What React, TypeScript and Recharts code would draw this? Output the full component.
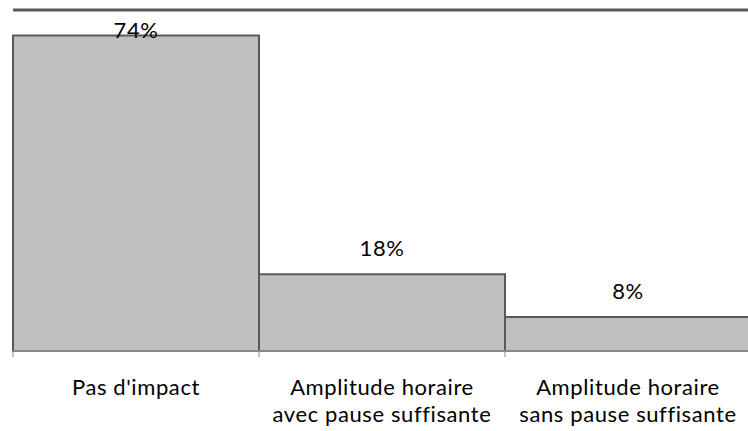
import React from "react";
import { BarChart, Bar, XAxis, YAxis, ReferenceLine, LabelList } from "recharts";

const categories = ["Pas d'impact", "Amplitude horaire\navec pause suffisante", "Amplitude horaire\nsans pause suffisante"];
const values = [0.74, 0.18, 0.08];
const labels = ["74%", "18%", "8%"];

const data = categories.map((c, i) => ({ name: c, value: values[i], label: labels[i] }));

const FONT = "Lato, 'Open Sans', sans-serif";

const Tick = (props: any) => {
  const { x, y, payload, width, visibleTicksCount } = props;
  const band = width && visibleTicksCount ? width / visibleTicksCount : 246;
  const lines = String(payload.value).split("\n");
  const isLast = props.index === (visibleTicksCount || 3) - 1;
  return (
    <g>
      <line x1={x - band / 2} x2={x - band / 2} y1={y - 8} y2={y - 2} stroke="#868686" strokeWidth={1} />
      {isLast ? <line x1={x + band / 2} x2={x + band / 2} y1={y - 8} y2={y - 2} stroke="#868686" strokeWidth={1} /> : null}
      {lines.map((l, i) => (
        <text key={i} x={x} y={y + 36 + i * 26.5} textAnchor="middle" fontSize={22} letterSpacing={0.6} fontFamily={FONT} fill="#000">
          {l}
        </text>
      ))}
    </g>
  );
};

const ValueLabel = (props: any) => {
  const { x, y, width, value } = props;
  const ty = Math.max(y - 18, 38);
  return (
    <text x={x + width / 2} y={ty} textAnchor="middle" fontSize={22} letterSpacing={0.6} fontFamily={FONT} fill="#000">
      {value}
    </text>
  );
};

export default function App() {
  return (
    <div style={{ position: "absolute", left: 0, top: 0, width: 748, height: 431, overflow: "hidden", background: "#fff" }}>
      <BarChart width={760} height={431} data={data} margin={{ top: 10, right: 9, bottom: 0, left: 13 }} barCategoryGap={0}>
        <XAxis dataKey="name" interval={0} tickLine={false} axisLine={{ stroke: "#868686", strokeWidth: 2 }} tick={<Tick />} height={80} />
        <YAxis domain={[0, 0.8]} width={0} tick={false} tickLine={false} axisLine={{ stroke: "#595959", strokeWidth: 3 }} />
        <ReferenceLine y={0.8} stroke="#595959" strokeWidth={3} />
        <Bar dataKey="value" fill="#BFBFBF" stroke="#595959" strokeWidth={2} isAnimationActive={false}>
          <LabelList dataKey="label" content={<ValueLabel />} />
        </Bar>
      </BarChart>
    </div>
  );
}
